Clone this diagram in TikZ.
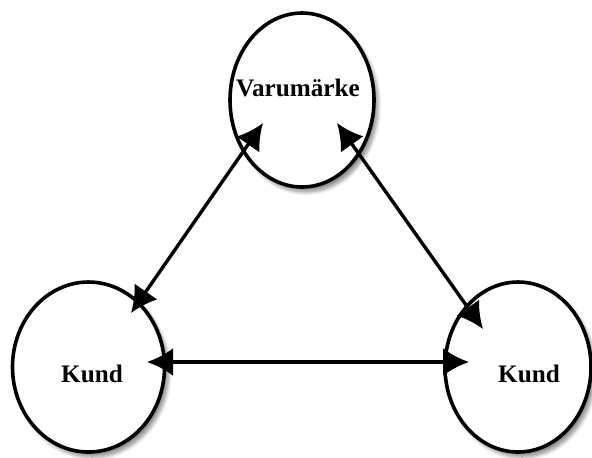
\documentclass[tikz,border=0pt]{standalone}
\usepackage{fontspec}
\setmainfont{Liberation Serif}
\usetikzlibrary{shapes.geometric, arrows.meta, shadows.blur}

\begin{document}
\begin{tikzpicture}[x=0.5pt, y=-0.5pt,
    party/.style={ellipse, draw, line width=1.8pt, fill=white,
        minimum width=#1, inner sep=0pt,
        blur shadow={shadow xshift=2pt, shadow yshift=-2.5pt,
            shadow blur steps=8, shadow opacity=45}},
    label/.style={font=\fontsize{12.6}{14}\selectfont\bfseries},
    link/.style={line width=1.7pt, {Latex[length=13pt, width=14pt]}-{Latex[length=13pt, width=14pt]}}]
    \useasboundingbox (0, 0) rectangle (592, 457);

    \node[party=72pt, minimum height=87pt] (brand) at (302, 100) {};
    \node[party=76pt, minimum height=85pt] (left) at (88.5, 367) {};
    \node[party=73pt, minimum height=85pt] (right) at (518, 367) {};
    \node[label] (brandtext) at (298, 88) {Varumärke};
    \node[label] (lefttext) at (92, 374) {Kund};
    \node[label] (righttext) at (529, 374) {Kund};

    % arrow ends sit inside the ellipses
    \coordinate (bl) at (263, 123);
    \coordinate (br) at (337, 123);
    \coordinate (lt) at (131, 313);
    \coordinate (rt) at (483, 329);
    \coordinate (lr) at (147, 362);
    \coordinate (rl) at (469, 362);

    \draw[link] (bl) -- (lt);
    \draw[link] (br) -- (rt);
    \draw[link] (lr) -- (rl);
\end{tikzpicture}
\end{document}
